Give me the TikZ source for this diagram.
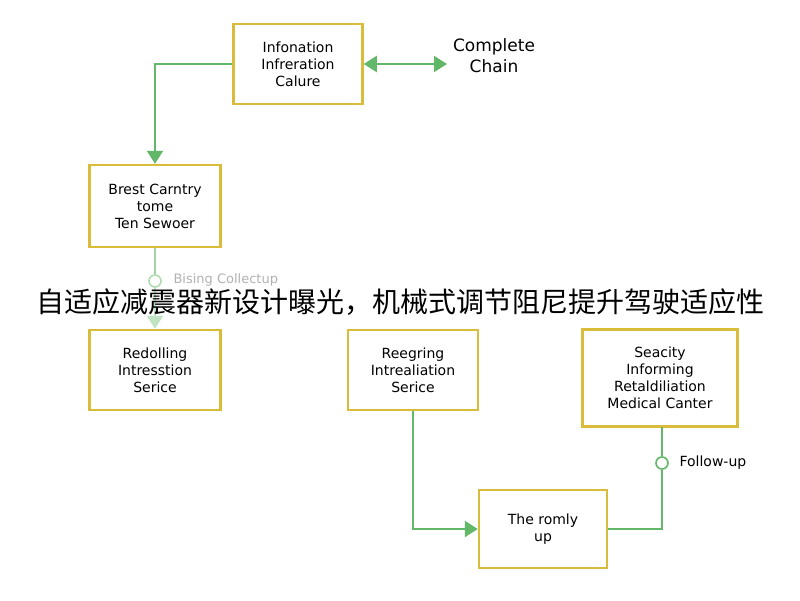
\documentclass[tikz,border=0pt]{standalone}
\usepackage{fontspec}
\setmainfont{DejaVu Sans}
\newfontfamily\cjk{Noto Sans CJK SC}
\usetikzlibrary{arrows.meta}
\definecolor{gold}{HTML}{D9BC3A}
\definecolor{grn}{HTML}{62B868}
\begin{document}
\begin{tikzpicture}[x=1pt,y=-1pt,
  box/.style={draw=gold,line width=2.5pt,fill=white,align=center,font=\fontsize{14}{17}\selectfont,inner sep=0pt},
  con/.style={draw=grn,line width=2.2pt},
  arr/.style={con,-{Triangle[length=13pt,width=16pt]}},
  dot/.style={circle,draw=grn,line width=1.6pt,fill=white,minimum size=12pt,inner sep=0pt}]
\useasboundingbox[fill=white] (0,0) rectangle (800,600);
\node[box,minimum width=129pt,minimum height=80pt] (a) at (298,64) {Infonation\\Infreration\\Calure};
\node[font=\fontsize{17}{21}\selectfont,align=center] (cc) at (494,56) {Complete\\Chain};
\node[box,minimum width=131pt,minimum height=82pt] (b) at (155,206) {Brest Carntry\\tome\\Ten Sewoer};
\node[box,minimum width=131pt,minimum height=80pt] (c) at (155,370) {Redolling\\Intresstion\\Serice};
\node[box,minimum width=130pt,minimum height=80pt] (d) at (413,370) {Reegring\\Intrealiation\\Serice};
\node[box,minimum width=155pt,minimum height=97pt] (e) at (660,378) {Seacity\\Informing\\Retaldiliation\\Medical Canter};
\node[box,minimum width=128pt,minimum height=78pt] (f) at (543,529) {The romly\\up};
\coordinate (ce) at (447,64);
\draw[con,{Triangle[length=13pt,width=16pt]}-{Triangle[length=13pt,width=16pt]}] (a.east) -- (ce);
\draw[arr] (a.west) -| (b.north);
\node[dot,draw=grn!50] (p) at (155,281) {};
\node[font=\fontsize{13}{15}\selectfont,text=black!30,anchor=west] (pl) at (170,280) {Bising Collectup};
\draw[con,draw=grn!60] (b.south) -- (p.north);
\draw[arr,draw=grn!40] (p.south) -- (c.north);
\draw[arr] (d.south) |- (f.west);
\node[dot] (q) at (662,463) {};
\node[font=\fontsize{14}{17}\selectfont,anchor=west] (ql) at (676,463) {Follow-up};
\draw[con] (f.east) -| (q.south);
\draw[con] (q.north) -- (662,427);
\node[font=\cjk\fontsize{28}{30}\selectfont] (t) at (400,302) {自适应减震器新设计曝光，机械式调节阻尼提升驾驶适应性};
\end{tikzpicture}
\end{document}
